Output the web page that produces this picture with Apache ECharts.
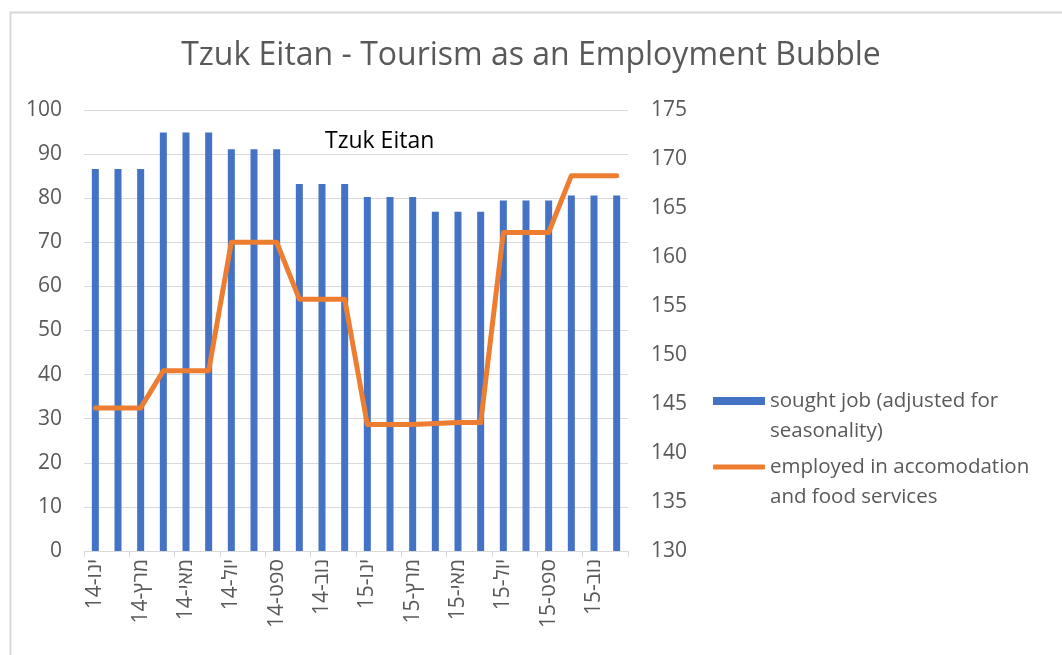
<!DOCTYPE html>
<html>
<head>
<meta charset="utf-8">
<script src="https://cdn.jsdelivr.net/npm/echarts@6/dist/echarts.min.js"></script>
<style>
  html, body { margin: 0; padding: 0; background: #fff; }
  #chart { width: 1062px; height: 655px; }
</style>
</head>
<body>
<div id="chart"></div>
<script>
// months, shown the way Excel displays them (year first, then the Hebrew month)
const months = [
  "14-ינו", "14-פבר", "14-מרץ", "14-אפר", "14-מאי", "14-יונ",
  "14-יול", "14-אוג", "14-ספט", "14-אוק", "14-נוב", "14-דצמ",
  "15-ינו", "15-פבר", "15-מרץ", "15-אפר", "15-מאי", "15-יונ",
  "15-יול", "15-אוג", "15-ספט", "15-אוק", "15-נוב", "15-דצמ"
];

// sought job (adjusted for seasonality) - left axis
const soughtJob = [
  86.6, 86.6, 86.6, 94.9, 94.9, 94.9,
  91.1, 91.1, 91.1, 83.2, 83.2, 83.2,
  80.3, 80.3, 80.3, 76.9, 76.9, 76.9,
  79.5, 79.5, 79.5, 80.6, 80.6, 80.6
];

// employed in accomodation and food services - right axis
const employed = [
  144.6, 144.6, 144.6, 148.4, 148.4, 148.4,
  161.5, 161.5, 161.5, 155.7, 155.7, 155.7,
  142.9, 142.9, 142.9, 143.0, 143.1, 143.1,
  162.5, 162.5, 162.5, 168.3, 168.3, 168.3
];

const barName = "sought job (adjusted for seasonality)";
const lineName = "employed in accomodation and food services";
// blank first line so the icon sits level with the first text line
const legendText = {};
legendText[barName] = " \nsought job (adjusted for\nseasonality)";
legendText[lineName] = " \nemployed in accomodation\nand food services";

const font = "'Open Sans', 'DejaVu Sans', sans-serif";
const grey = "#595959";

const chart = echarts.init(document.getElementById("chart"));

const legendBase = {
  orient: "vertical",
  left: 708,
  itemWidth: 52,
  itemGap: 0,
  formatter: name => legendText[name],
  textStyle: { color: grey, fontSize: 20.5, fontFamily: font, lineHeight: 30 }
};

chart.setOption({
  animation: false,
  title: {
    text: "Tzuk Eitan - Tourism as an Employment Bubble",
    left: "center",
    top: 35,
    textStyle: { color: grey, fontSize: 32, fontWeight: "normal", fontFamily: font }
  },
  legend: [
    Object.assign({}, legendBase, {
      top: 351, itemHeight: 8,
      data: [{ name: barName, icon: "rect" }]
    }),
    Object.assign({}, legendBase, {
      top: 417, itemHeight: 5,
      data: [{ name: lineName, icon: "roundRect", itemStyle: { color: "#ed7d31" } }]
    })
  ],
  grid: { left: 84, right: 434, top: 110, bottom: 104 },
  xAxis: {
    type: "category",
    data: months,
    boundaryGap: true,
    axisLine: { lineStyle: { color: "#d9d9d9", width: 1 } },
    axisTick: { show: true, interval: 1, length: 6, lineStyle: { color: "#d9d9d9" } },
    axisLabel: {
      interval: 1,
      rotate: 90,
      margin: 8,
      color: grey,
      fontSize: 21,
      fontFamily: font
    }
  },
  yAxis: [
    {
      type: "value",
      min: 0,
      max: 100,
      interval: 10,
      axisLine: { show: false },
      axisTick: { show: false },
      splitLine: { lineStyle: { color: "#d9d9d9", width: 1 } },
      axisLabel: { color: grey, fontSize: 21, fontFamily: font, margin: 22 }
    },
    {
      type: "value",
      min: 130,
      max: 175,
      interval: 5,
      axisLine: { show: false },
      axisTick: { show: false },
      splitLine: { show: false },
      axisLabel: { color: grey, fontSize: 21, fontFamily: font, margin: 23 }
    }
  ],
  series: [
    {
      name: barName,
      type: "bar",
      data: soughtJob,
      barWidth: 7,
      itemStyle: { color: "#4472c4" }
    },
    {
      name: lineName,
      type: "line",
      yAxisIndex: 1,
      data: employed,
      symbol: "none",
      color: "#ed7d31",
      lineStyle: { color: "#ed7d31", width: 5, cap: "round", join: "round" }
    }
  ],
  graphic: [
    {
      type: "rect",
      left: 8,
      top: 10,
      shape: { width: 1100, height: 700 },
      style: { fill: "none", stroke: "#d9d9d9", lineWidth: 2 },
      silent: true
    },
    {
      type: "text",
      left: 325,
      top: 130,
      style: { text: "Tzuk Eitan", fill: "#000", fontSize: 23, fontFamily: font }
    }
  ]
});
</script>
</body>
</html>
